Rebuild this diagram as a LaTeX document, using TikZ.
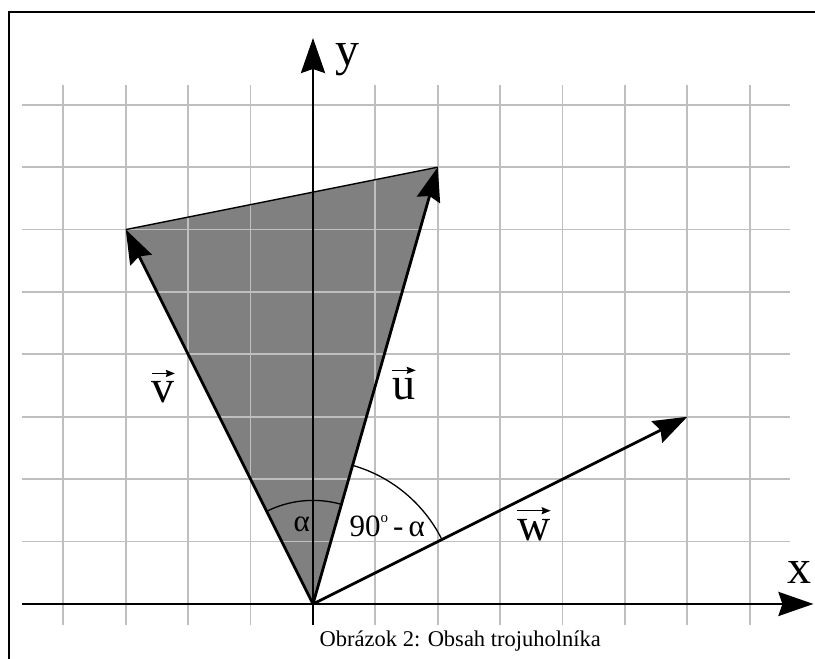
\RequirePackage{fix-cm}
\documentclass[tikz,border=0pt]{standalone}
\usepackage{fontspec}
\setmainfont{Liberation Serif}
\usetikzlibrary{arrows.meta}
\tikzset{
  frameline/.style={line width=1.6pt},
  gridline/.style={line width=1.8pt, gray!50},
  axis/.style={line width=2.8pt, -{Stealth[length=35pt, width=24pt, inset=4pt]}},
  vect/.style={line width=2.8pt, -{Stealth[length=34pt, width=24pt, inset=4pt]}},
  vecarrow/.style={line width=1.5pt, -{Stealth[length=9pt, width=7pt, inset=1pt]}},
  side/.style={line width=1.4pt},
  anglearc/.style={line width=1.3pt},
  axislabel/.style={font=\fontsize{48}{50}\selectfont, inner sep=0pt},
  veclabel/.style={font=\fontsize{46}{50}\selectfont, inner sep=0pt},
  anglelabel/.style={font=\fontsize{31}{34}\selectfont, inner sep=0pt},
  captiontext/.style={font=\fontsize{22.5}{26}\selectfont, inner sep=0pt}
}
\newcommand{\degsign}{\raisebox{14pt}{\fontsize{15}{15}\selectfont o}}

\begin{document}
\begin{tikzpicture}[x=62.4pt, y=62.4pt]
  \useasboundingbox (-5.016,-0.881) rectangle (8.045,9.679);
  \coordinate (O) at (0,0);
  \coordinate (U) at (2,7);
  \coordinate (V) at (-3,6);
  \coordinate (W) at (6,3);
  \draw[frameline] (-4.87,-0.881) -- (-4.87,9.49) -- (8.045,9.49);
  \fill[gray] (O) -- (U) -- (V) -- cycle;
  \foreach \y in {1,...,8}
    \draw[gridline] (-4.66,\y) -- (7.64,\y);
  \foreach \x in {-4,...,-1,1,2,...,7}
    \draw[gridline] (\x,-0.34) -- (\x,8.32);
  \draw[side] (V) -- (U);
  \draw[axis] (-4.66,0) -- (8.02,0);
  \draw[axis] (0,-0.34) -- (0,9.07);
  \draw[vect] (O) -- (U);
  \draw[vect] (O) -- (V);
  \draw[vect] (O) -- (W);
  \draw[anglearc] (O) ++(116.57:1.66) arc[start angle=116.57, end angle=74.05, radius=1.66];
  \draw[anglearc] (O) ++(74.05:2.31) arc[start angle=74.05, end angle=26.57, radius=2.31];
  \node[axislabel] (ylabel) at (0.55,8.72) {y};
  \node[axislabel] (xlabel) at (7.8,0.5) {x};
  \node[veclabel] (vlabel) at (-2.4,3.39) {v};
  \node[veclabel] (ulabel) at (1.46,3.44) {u};
  \node[veclabel] (wlabel) at (3.54,1.19) {w};
  \draw[vecarrow] ([yshift=8pt]vlabel.north west) -- ([yshift=8pt]vlabel.north east);
  \draw[vecarrow] ([yshift=8pt]ulabel.north west) -- ([yshift=8pt]ulabel.north east);
  \draw[vecarrow] ([yshift=8pt]wlabel.north west) -- ([yshift=8pt]wlabel.north east);
  \node[anglelabel] (alphalabel) at (-0.18,1.27) {α};
  \node[anglelabel] (complabel) at (1.19,1.25) {90\degsign\,-\,α};
  \node[captiontext] (caption) at (2.36,-0.59) {Obrázok 2: Obsah trojuholníka};
\end{tikzpicture}
\end{document}
